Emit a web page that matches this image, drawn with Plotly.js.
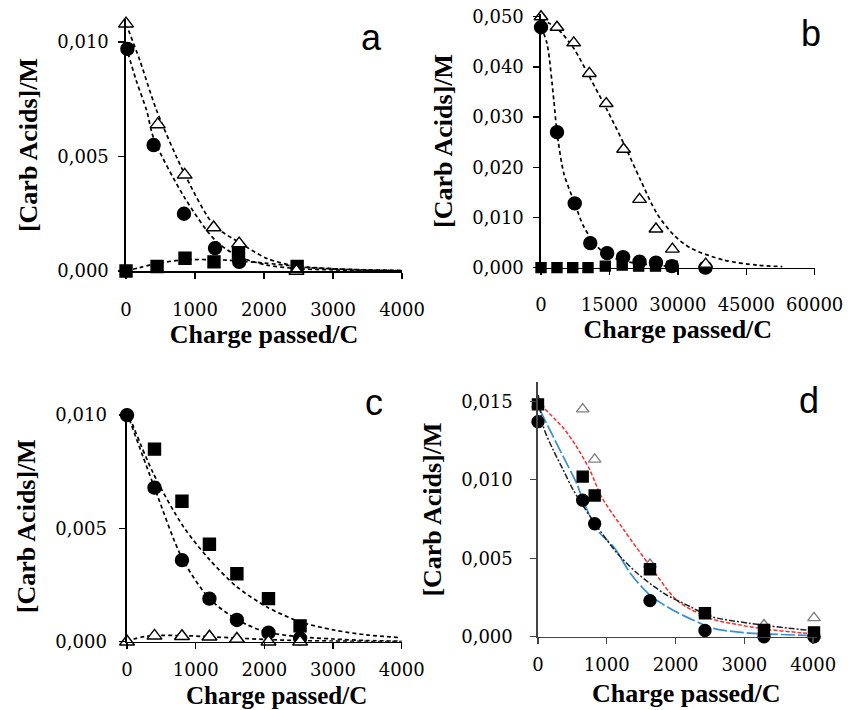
<!DOCTYPE html>
<html><head><meta charset="utf-8">
<script src="https://cdn.plot.ly/plotly-3.0.1.min.js"></script>
<style>html,body{margin:0;padding:0;background:#fff}#chart{width:848px;height:710px}</style>
</head><body><div id="chart"></div>
<script>
// ---------- Panel a ----------
const aTriX  = [0, 460, 850, 1270, 1640, 2470];
const aTriY  = [0.0108, 0.0064, 0.0042, 0.0019, 0.0012, 0.0000];
const aCircX = [20, 400, 840, 1290, 1640];
const aCircY = [0.0097, 0.0055, 0.0025, 0.0010, 0.0004];
const aSqX   = [0, 450, 855, 1275, 1630, 2480];
const aSqY   = [0.0000, 0.0002, 0.00056, 0.0004, 0.0008, 0.0002];
const aTriFitX  = [0, 200, 445, 855, 1275, 1640, 2040, 2490, 2950, 3500, 4000];
const aTriFitY  = [0.0108, 0.0092, 0.0070, 0.0042, 0.0020, 0.00125, 0.00055, 0.0002, 0.0001, 0.00004, 0.00002];
const aCircFitX = [0, 150, 300, 400, 840, 1290, 1640, 2040, 2500, 3000, 3500, 4000];
const aCircFitY = [0.0098, 0.0083, 0.0070, 0.0058, 0.00325, 0.00135, 0.00062, 0.00026, 0.0001, 0.00005, 0.00002, 0.00001];
const aSqFitX   = [0, 200, 400, 800, 1200, 1600, 2000, 2500, 3000, 3500, 4000];
const aSqFitY   = [0, 0.00015, 0.0003, 0.00048, 0.0005, 0.00045, 0.00035, 0.0002, 0.0001, 0.00005, 0.00002];

// ---------- Panel b ----------
const bTriX  = [0, 3500, 7170, 10600, 14300, 18100, 21600, 25200, 28800, 36100];
const bTriY  = [0.0500, 0.0479, 0.0448, 0.0387, 0.0327, 0.0236, 0.0136, 0.0077, 0.0037, 0.0007];
const bCircX = [0, 3500, 7390, 10800, 14500, 18000, 21600, 25200, 28700, 36050];
const bCircY = [0.0479, 0.0270, 0.0128, 0.0049, 0.0029, 0.0021, 0.0012, 0.0010, 0.0003, 0.0000];
const bSqX   = [0, 3500, 6950, 10300, 14100, 17800, 21400, 25100, 28750];
const bSqY   = [0, 0, 0, 0, 0.0003, 0.0005, 0.0003, 0.0003, 0.0003];
const bTriFitX  = [0, 3500, 7170, 10800, 14500, 18100, 21800, 25400, 29100, 32800, 40100, 47400, 52900];
const bTriFitY  = [0.0495, 0.0477, 0.0437, 0.0377, 0.0314, 0.0248, 0.0175, 0.0108, 0.0065, 0.0039, 0.0015, 0.0005, 0.0002];
const bCircFitX = [0, 1300, 2800, 3500, 5000, 7390, 9360, 12300, 15200, 20000, 25000, 29000];
const bCircFitY = [0.0480, 0.0447, 0.0334, 0.0270, 0.0188, 0.0128, 0.0082, 0.0042, 0.0022, 0.0010, 0.0005, 0.0002];

// ---------- Panel c ----------
const cX     = [0, 400, 800, 1200, 1600, 2060, 2520];
const cSqY   = [0.0108, 0.0085, 0.0062, 0.0043, 0.0030, 0.0019, 0.0007];
const cCircY = [0.0100, 0.0068, 0.0036, 0.0019, 0.00096, 0.0004, 0.00015];
const cTriY  = [0, 0.00026, 0.00024, 0.00022, 0.00012, 0, 0];
const cSqFitX   = [0, 383, 820, 1208, 1597, 2033, 2518, 3004, 3489, 3974];
const cSqFitY   = [0.0102, 0.00743, 0.00508, 0.0036, 0.00243, 0.00154, 0.00088, 0.00052, 0.0003, 0.00018];
const cCircFitX = [0, 400, 800, 1200, 1600, 2000, 2500, 3000, 3500, 4000];
const cCircFitY = [0.0101, 0.0068, 0.0037, 0.0019, 0.00098, 0.00045, 0.00022, 0.00012, 0.00005, 0.00002];
const cTriFitX  = [0, 100, 250, 400, 800, 1200, 1600, 2000, 2500, 3000, 3500, 4000];
const cTriFitY  = [0, 0.00012, 0.00022, 0.00027, 0.00027, 0.00022, 0.00016, 0.0001, 0.00005, 0.00003, 0.00001, 0];

// ---------- Panel d ----------
const dX     = [0, 650, 824, 1628, 2427, 3285, 4012];
const dSqY   = [0.0148, 0.0102, 0.0090, 0.0043, 0.0015, 0.00043, 0.00028];
const dCircY = [0.0137, 0.0087, 0.0072, 0.0023, 0.0004, 0.0000, 0.0000];
const dTriY  = [0.0148, 0.0145, 0.0113, 0.0046, 0.0015, 0.00075, 0.0012];
const dRedX  = [102, 368, 562, 756, 925, 1250, 1630, 2025, 2500, 2936, 3324, 3808, 4012];
const dRedY  = [0.0145, 0.0133, 0.0121, 0.0106, 0.0089, 0.0068, 0.0045, 0.0023, 0.00117, 0.00075, 0.00047, 0.00026, 0.00017];
const dBlueX = [29, 222, 417, 562, 654, 860, 1105, 1350, 1640, 2000, 2364, 2548, 2984, 3808, 4012];
const dBlueY = [0.01444, 0.01274, 0.01104, 0.00977, 0.0087, 0.0068, 0.0057, 0.0040, 0.0026, 0.0016, 0.00085, 0.00053, 0.00026, 0.0001, 0.00008];
const dBlackX = [5, 78, 222, 368, 513, 862, 1153, 1444, 1831, 2219, 2500, 3081, 3808, 4012];
const dBlackY = [0.0154, 0.01338, 0.01189, 0.01062, 0.00934, 0.0070, 0.00531, 0.00404, 0.00276, 0.0019, 0.0013, 0.00085, 0.00047, 0.0004];

// ---------- Tick labels ----------
const xTicksSmall = [0, 1000, 2000, 3000, 4000];
const xTicksSmallText = ['0', '1000', '2000', '3000', '4000'];
const xTicksB = [0, 15000, 30000, 45000, 60000];
const xTicksBText = ['0', '15000', '30000', '45000', '60000'];
const yTicksAC = [0, 0.005, 0.010];
const yTicksACText = ['0,000', '0,005', '0,010'];
const yTicksB = [0, 0.01, 0.02, 0.03, 0.04, 0.05];
const yTicksBText = ['0,000', '0,010', '0,020', '0,030', '0,040', '0,050'];
const yTicksD = [0, 0.005, 0.010, 0.015];
const yTicksDText = ['0,000', '0,005', '0,010', '0,015'];
const panelLetters = ['a', 'b', 'c', 'd'];
const xTitle = 'Charge passed/C';
const yTitle = '[Carb Acids]/M';

const BLK = '#000';
function fit(x, y, ax, color, dash, width) {
  return {x: x, y: y, xaxis: 'x' + ax, yaxis: 'y' + ax, mode: 'lines', type: 'scatter',
    line: {color: color || BLK, dash: dash || '4px,3px', width: width || 1.7, shape: 'spline', smoothing: 0.8},
    hoverinfo: 'skip', showlegend: false, cliponaxis: false};
}
function pts(x, y, ax, symbol, size, fill, edge) {
  return {x: x, y: y, xaxis: 'x' + ax, yaxis: 'y' + ax, mode: 'markers', type: 'scatter',
    marker: {symbol: symbol, size: size, color: fill, line: {color: edge, width: 1.4}},
    showlegend: false, cliponaxis: false};
}

const traces = [
  fit(aTriFitX, aTriFitY, ''), fit(aCircFitX, aCircFitY, ''), fit(aSqFitX, aSqFitY, ''),
  pts(aSqX, aSqY, '', 'square', 12, BLK, BLK),
  pts(aCircX, aCircY, '', 'circle', 13, BLK, BLK),
  pts(aTriX, aTriY, '', 'triangle-up', 13, '#fff', BLK),

  fit(bTriFitX, bTriFitY, '2'), fit(bCircFitX, bCircFitY, '2'),
  pts(bSqX, bSqY, '2', 'square', 10, BLK, BLK),
  pts(bCircX, bCircY, '2', 'circle', 13, BLK, BLK),
  pts(bTriX, bTriY, '2', 'triangle-up', 12, '#fff', BLK),

  fit(cSqFitX, cSqFitY, '3'), fit(cCircFitX, cCircFitY, '3'), fit(cTriFitX, cTriFitY, '3'),
  pts(cX, cSqY, '3', 'square', 12, BLK, BLK),
  pts(cX, cCircY, '3', 'circle', 13, BLK, BLK),
  pts(cX, cTriY, '3', 'triangle-up', 13, '#fff', BLK),

  fit(dRedX, dRedY, '4', '#ff2b2b', '4px,2px', 1.5),
  fit(dBlueX, dBlueY, '4', '#3a8fd6', '14px,3px', 1.7),
  fit(dBlackX, dBlackY, '4', '#222', '6px,2px,2px,2px', 1.5),
  pts(dX, dTriY, '4', 'triangle-up', 11, '#fff', '#808080'),
  pts(dX, dSqY, '4', 'square', 11, BLK, BLK),
  pts(dX, dCircY, '4', 'circle', 12, BLK, BLK),
];

const tickFont = {family: 'DejaVu Serif, serif', size: 18, color: '#000'};
const titleFont = {family: 'Liberation Serif, Times New Roman, serif', size: 26, color: '#000', weight: 'bold'};
const titleFontC = {family: 'Liberation Serif, Times New Roman, serif', size: 25, color: '#000', weight: 'bold'};

function xax(domain, range, vals, text, anchor, stand, tstand, lc, withTitle) {
  const ax = {domain: domain, range: range, anchor: anchor, tickvals: vals, ticktext: text,
    showgrid: false, zeroline: false, showline: true, linecolor: lc || BLK, linewidth: 1.6,
    ticks: 'outside', ticklen: 6, tickwidth: 1.4, tickcolor: lc || BLK, tickfont: tickFont,
    ticklabelstandoff: stand, fixedrange: true};
  if (withTitle) ax.title = {text: '<b>' + xTitle + '</b>', font: titleFont, standoff: tstand};
  return ax;
}
function yax(domain, range, vals, text, anchor, stand, lc) {
  return {domain: domain, range: range, anchor: anchor, tickvals: vals, ticktext: text,
    showgrid: false, zeroline: false, showline: true, linecolor: lc || BLK, linewidth: 1.6,
    ticks: 'outside', ticklen: 6, tickwidth: 1.4, tickcolor: lc || BLK, tickfont: tickFont,
    ticklabelstandoff: stand, fixedrange: true,
    title: {text: '<b>' + yTitle + '</b>', font: titleFont, standoff: 12}};
}

const letterFont = {family: 'Liberation Sans, Arial, sans-serif', size: 36, color: '#000'};
const letters = [
  {text: panelLetters[0], x: 371 / 848, y: 1 - 37 / 710},
  {text: panelLetters[1], x: 811 / 848, y: 1 - 33 / 710},
  {text: panelLetters[2], x: 374 / 848, y: 1 - 402 / 710},
  {text: panelLetters[3], x: 809 / 848, y: 1 - 400 / 710},
].map(a => Object.assign(a, {xref: 'paper', yref: 'paper', showarrow: false, font: letterFont, xanchor: 'center', yanchor: 'middle'}));
// bottom-row x-axis titles, placed by hand so they sit at the page's lower edge
const bottomTitles = [
  {text: '<b>' + xTitle + '</b>', x: 276 / 848, y: 0, font: titleFontC},
  {text: '<b>' + xTitle + '</b>', x: 686 / 848, y: 1 - 678 / 710, yanchor: 'top', font: titleFont},
].map(a => Object.assign({xref: 'paper', yref: 'paper', showarrow: false, xanchor: 'center', yanchor: 'bottom', borderpad: 0}, a));

const layout = {
  width: 848, height: 710, margin: {l: 0, r: 0, t: 0, b: 0},
  paper_bgcolor: '#fff', plot_bgcolor: 'rgba(0,0,0,0)', showlegend: false,
  xaxis:  xax([0.1486, 0.4741], [0, 4000], xTicksSmall, xTicksSmallText, 'y', 16, 2, BLK, true),
  yaxis:  yax([0.6183, 0.9731], [0, 0.011], yTicksAC, yTicksACText, 'x', 6),
  xaxis2: xax([0.6380, 0.9607], [0, 60000], xTicksB, xTicksBText, 'y2', 14, 2, BLK, true),
  yaxis2: yax([0.6230, 0.9800], [0, 0.0505], yTicksB, yTicksBText, 'x2', 6),
  xaxis3: xax([0.1498, 0.4737], [0, 4000], xTicksSmall, xTicksSmallText, 'y3', 5, 0, BLK, false),
  yaxis3: yax([0.0962, 0.4217], [0, 0.0102], yTicksAC, yTicksACText, 'x3', 9),
  xaxis4: xax([0.6344, 0.9630], [0, 4050], xTicksSmall, xTicksSmallText, 'y4', 5, 0, '#444', false),
  yaxis4: yax([0.1032, 0.4614], [0, 0.0162], yTicksD, yTicksDText, 'x4', 14, '#444'),
  annotations: letters.concat(bottomTitles)
};

Plotly.newPlot('chart', traces, layout, {displayModeBar: false, staticPlot: true});
</script></body></html>
